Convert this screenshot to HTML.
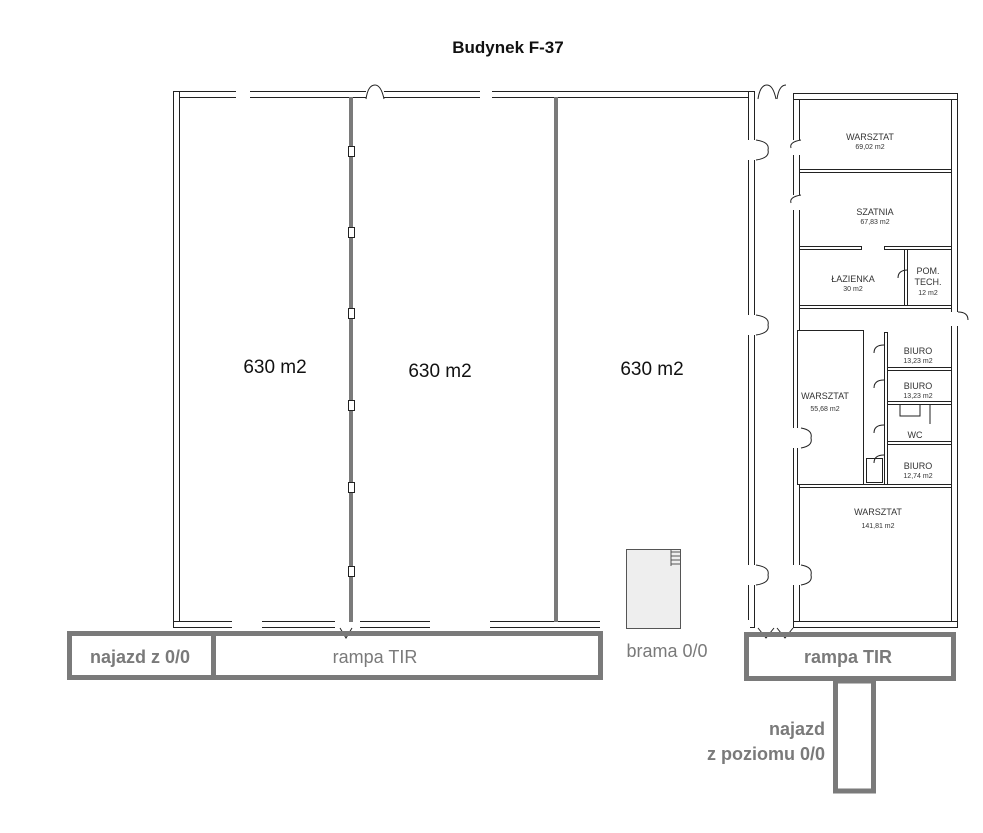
<!DOCTYPE html>
<html><head><meta charset="utf-8"><style>
html,body{margin:0;padding:0;background:#fff;}
svg{display:block;}
</style></head><body>
<svg width="983" height="833" viewBox="0 0 983 833" xmlns="http://www.w3.org/2000/svg" font-family="Liberation Sans, sans-serif">
<rect width="983" height="833" fill="#fff"/>
<text x="508" y="53" text-anchor="middle" font-size="17" font-weight="bold" fill="#111">Budynek F-37</text>

<g fill="#fff" stroke="#222" stroke-width="1">
<rect x="173.5" y="91.5" width="580" height="6"/>
<rect x="173.5" y="91.5" width="6" height="536"/>
<rect x="173.5" y="621.5" width="580" height="6"/>
<rect x="748.5" y="91.5" width="6" height="536"/>
<rect x="793.5" y="93.5" width="6" height="534"/>
<rect x="951.5" y="93.5" width="6" height="534"/>
<rect x="793.5" y="93.5" width="164" height="6"/>
<rect x="793.5" y="621.5" width="164" height="6"/>
<rect x="799.5" y="169.5" width="152" height="3"/>
<rect x="799.5" y="246.5" width="62" height="3"/>
<rect x="884.5" y="246.5" width="67" height="3"/>
<rect x="904.5" y="249.5" width="3" height="56"/>
<rect x="799.5" y="305.5" width="152" height="3"/>
<rect x="799.5" y="484.5" width="152" height="3"/>
<rect x="797.5" y="330.5" width="66" height="154"/>
<rect x="884.5" y="332.5" width="3" height="152"/>
<rect x="887.5" y="367.5" width="64" height="3"/>
<rect x="887.5" y="401.5" width="64" height="3"/>
<rect x="887.5" y="441.5" width="64" height="3"/>
</g>
<g fill="#fff" stroke="none">
<rect x="236" y="90" width="14" height="9"/>
<rect x="366" y="90" width="18" height="9"/>
<rect x="480" y="90" width="12" height="9"/>
<rect x="747" y="140" width="9" height="20"/>
<rect x="747" y="315" width="9" height="20"/>
<rect x="747" y="565" width="9" height="20"/>
<rect x="792" y="140" width="9" height="15"/>
<rect x="792" y="195" width="9" height="15"/>
<rect x="792" y="428" width="9" height="20"/>
<rect x="792" y="565" width="9" height="20"/>
<rect x="950" y="312" width="9" height="14"/>
<rect x="232" y="620" width="30" height="9"/>
<rect x="335" y="620" width="25" height="9"/>
<rect x="430" y="620" width="60" height="9"/>
<rect x="600" y="620" width="27" height="9"/>
<rect x="680" y="620" width="70" height="9"/>
<rect x="755" y="620" width="38" height="9"/>
<rect x="755" y="90" width="38" height="9"/>
</g>
<g fill="none" stroke="#222" stroke-width="1">
<path d="M366 99 q2 -14 9 -14 q6 0 9 14"/>
<path d="M758 99 q2 -14 9 -14 q6 0 9 14 M777 99 q2 -14 9 -14"/>
<path d="M756 140 q14 2 12 10 q2 8 -12 10"/>
<path d="M756 315 q14 2 12 10 q2 8 -12 10"/>
<path d="M756 565 q14 2 12 10 q2 8 -12 10"/>
<path d="M801 140 q-12 2 -10 8 M801 195 q-12 2 -10 8"/>
<path d="M801 428 q12 2 10 10 q2 8 -10 10"/>
<path d="M801 565 q12 2 10 10 q2 8 -10 10"/>
<path d="M884 345 q-10 0 -10 8 M884 380 q-10 0 -10 8 M884 425 q-10 0 -10 8 M884 455 q-10 0 -10 8"/>
<path d="M908 270 q-10 0 -10 8"/>
<path d="M958 312 q10 0 10 8"/>
<path d="M758 628 l8 10 l8 -10 M777 628 l8 10 l8 -10"/>
<path d="M340 628 l6 10 l6 -10"/>
<rect x="866.5" y="458.5" width="16" height="24"/>
<path d="M900 404 v12 h20 v-12 M930 404 v20"/>
</g>
<g fill="#7a7a7a">
<rect x="349" y="97" width="4" height="525"/>
<rect x="554" y="97" width="4" height="525"/>
</g>
<g fill="#fff" stroke="#222" stroke-width="1">
<rect x="348.5" y="146.5" width="6" height="10"/>
<rect x="348.5" y="227.5" width="6" height="10"/>
<rect x="348.5" y="308.5" width="6" height="10"/>
<rect x="348.5" y="400.5" width="6" height="10"/>
<rect x="348.5" y="482.5" width="6" height="10"/>
<rect x="348.5" y="566.5" width="6" height="10"/>
</g>
<rect x="626.5" y="549.5" width="54" height="79" fill="#eeeeee" stroke="#555" stroke-width="1"/>
<g stroke="#555" stroke-width="1" fill="none"><path d="M671 552 h9 M671 556 h9 M671 560 h9 M671 564 h9 M671 550 v16"/></g>

<g fill="none" stroke="#7a7a7a" stroke-width="5">
<rect x="69.5" y="633.5" width="531" height="44"/>
<line x1="213.5" y1="633" x2="213.5" y2="678"/>
<rect x="746.5" y="634.5" width="207" height="44"/>
<rect x="835.5" y="681" width="38" height="110"/>
</g>
<g fill="#7a7a7a" font-size="18">
<text x="140" y="663" text-anchor="middle" font-weight="bold">najazd z 0/0</text>
<text x="375" y="663" text-anchor="middle">rampa TIR</text>
<text x="667" y="657" text-anchor="middle">brama 0/0</text>
<text x="848" y="663" text-anchor="middle" font-weight="bold">rampa TIR</text>
<text x="825" y="735" text-anchor="end" font-weight="bold">najazd</text>
<text x="825" y="760" text-anchor="end" font-weight="bold">z poziomu 0/0</text>
</g>
<g fill="#111" font-size="19" text-anchor="middle">
<text x="275" y="373">630 m2</text>
<text x="440" y="377">630 m2</text>
<text x="652" y="375">630 m2</text>
</g>
<g fill="#333" text-anchor="middle">
<text x="870" y="140" font-size="9">WARSZTAT</text>
<text x="870" y="149" font-size="7">69,02 m2</text>
<text x="875" y="215" font-size="9">SZATNIA</text>
<text x="875" y="224" font-size="7">67,83 m2</text>
<text x="853" y="282" font-size="9">ŁAZIENKA</text>
<text x="853" y="291" font-size="7">30 m2</text>
<text x="928" y="274" font-size="9">POM.</text>
<text x="928" y="285" font-size="9">TECH.</text>
<text x="928" y="295" font-size="7">12 m2</text>
<text x="918" y="354" font-size="9">BIURO</text>
<text x="918" y="363" font-size="7">13,23 m2</text>
<text x="918" y="389" font-size="9">BIURO</text>
<text x="918" y="398" font-size="7">13,23 m2</text>
<text x="915" y="438" font-size="9">WC</text>
<text x="918" y="469" font-size="9">BIURO</text>
<text x="918" y="478" font-size="7">12,74 m2</text>
<text x="825" y="399" font-size="9">WARSZTAT</text>
<text x="825" y="411" font-size="7">55,68 m2</text>
<text x="878" y="515" font-size="9">WARSZTAT</text>
<text x="878" y="528" font-size="7">141,81 m2</text>
</g>
</svg>
</body></html>
